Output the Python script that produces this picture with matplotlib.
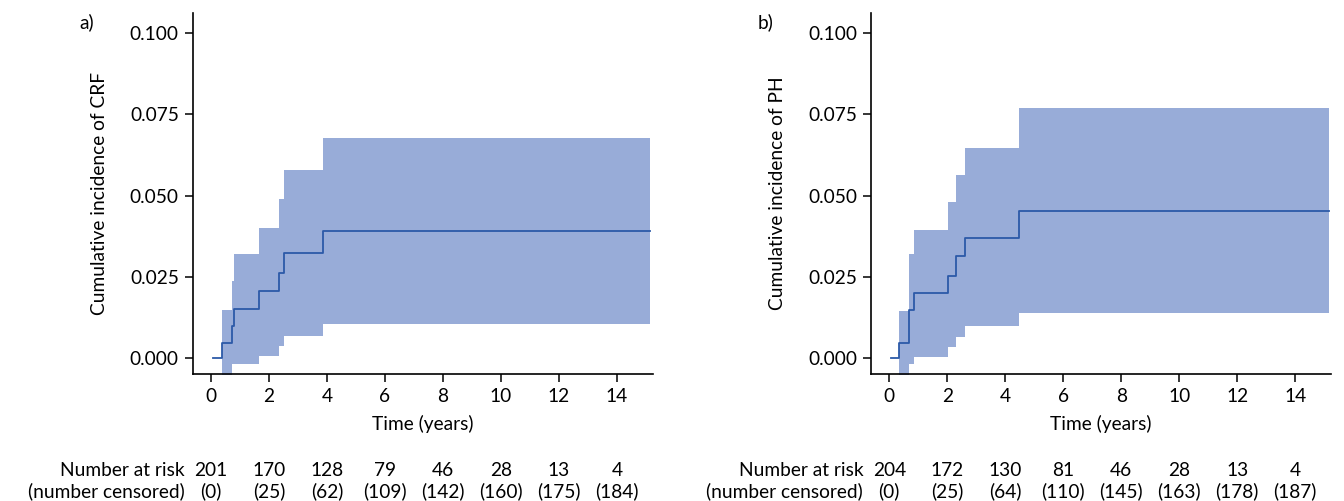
import matplotlib
matplotlib.use("Agg")
import matplotlib.pyplot as plt
from matplotlib.transforms import blended_transform_factory
from matplotlib.ticker import FormatStrFormatter

plt.rcParams['font.family'] = ['Lato', 'DejaVu Sans']

# Panel a (CRF)
times_a = [0.07, 0.37, 0.73, 0.80, 1.67, 2.33, 2.53, 3.85, 15.15]
est_a = [0.0, 0.0047, 0.0099, 0.0152, 0.0205, 0.0262, 0.0324, 0.039, 0.039]
upper_a = [0.0, 0.0148, 0.0236, 0.032, 0.040, 0.049, 0.0578, 0.0677, 0.0677]
lower_a = [0.0, -0.009, -0.0018, -0.0018, 0.0005, 0.0037, 0.0067, 0.0105, 0.0105]
risk_a = [201, 170, 128, 79, 46, 28, 13, 4]
cens_a = [0, 25, 62, 109, 142, 160, 175, 184]

# Panel b (PH)
times_b = [0.06, 0.34, 0.69, 0.84, 2.04, 2.30, 2.60, 4.49, 15.15]
est_b = [0.0, 0.0047, 0.0148, 0.0199, 0.0252, 0.0314, 0.0371, 0.0452, 0.0452]
upper_b = [0.0, 0.0146, 0.032, 0.0394, 0.048, 0.0563, 0.0646, 0.0769, 0.0769]
lower_b = [0.0, -0.009, -0.0018, 0.0004, 0.0033, 0.0066, 0.0098, 0.0139, 0.0139]
risk_b = [204, 172, 130, 81, 46, 28, 13, 4]
cens_b = [0, 25, 64, 110, 145, 163, 178, 187]

risk_times = [0, 2, 4, 6, 8, 10, 12, 14]
yticks = [0.0, 0.025, 0.05, 0.075, 0.1]

line_color = '#2c5aa8'
fill_color = '#98acd8'
fs = 13.8

fig = plt.figure(figsize=(13.44, 5.01), dpi=100)
W, H = 1344, 501

panels = [
    (192.7, 'a)', 'Cumulative incidence of CRF', times_a, est_a, upper_a, lower_a, risk_a, cens_a),
    (871.0, 'b)', 'Cumulative incidence of PH', times_b, est_b, upper_b, lower_b, risk_b, cens_b),
]

for left_px, tag, ylabel, t, e, u, l, risk, cens in panels:
    ax = fig.add_axes([left_px / W, 1 - 374 / H, 460.5 / W, (374 - 13) / H])
    ax.fill_between(t, l, u, step='post', color=fill_color, linewidth=0)
    ax.step(t, e, where='post', color=line_color, linewidth=1.3)
    ax.set_xlim(-0.63, 15.25)
    ax.set_ylim(-0.0049, 0.1062)
    ax.set_xticks(risk_times)
    ax.set_yticks(yticks)
    ax.yaxis.set_major_formatter(FormatStrFormatter('%.3f'))
    for s in ['top', 'right']:
        ax.spines[s].set_visible(False)
    for s in ['left', 'bottom']:
        ax.spines[s].set_linewidth(1.2)
    ax.tick_params(labelsize=fs, length=6, width=1.1, direction='out', pad=4)
    ax.set_xlabel('Time (years)', fontsize=fs, labelpad=7)
    ax.set_ylabel(ylabel, fontsize=fs, labelpad=16)
    fig.text((left_px - 113) / W, 1 - 22 / H, tag, fontsize=fs, va='center', ha='left')
    tr = blended_transform_factory(ax.transData, fig.transFigure)
    y1 = 1 - 470 / H
    y2 = 1 - 491 / H
    ax.text(-0.9, y1, 'Number at risk', transform=tr, ha='right', va='center', fontsize=fs)
    ax.text(-0.9, y2, '(number censored)', transform=tr, ha='right', va='center', fontsize=fs)
    for x, r, c in zip(risk_times, risk, cens):
        ax.text(x, y1, str(r), transform=tr, ha='center', va='center', fontsize=fs)
        ax.text(x, y2, '(%d)' % c, transform=tr, ha='center', va='center', fontsize=fs)

fig.savefig('out.png', dpi=100)
